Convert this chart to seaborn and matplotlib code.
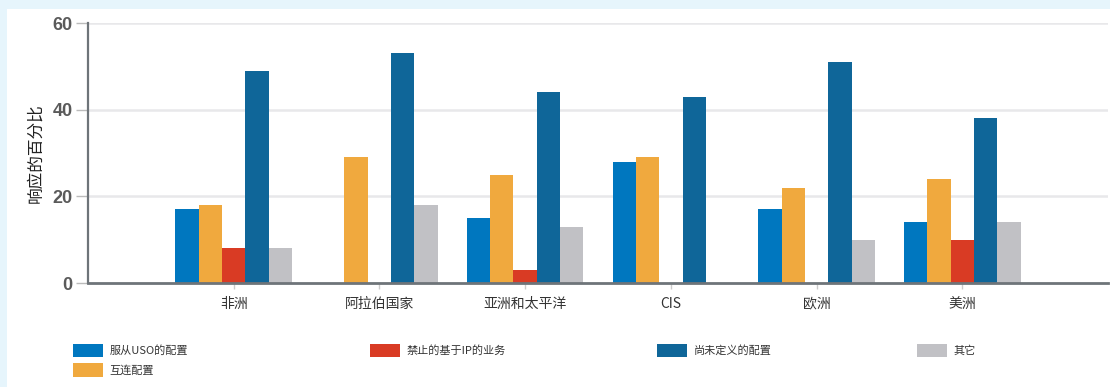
import numpy as np
import pandas as pd
import matplotlib
matplotlib.use("Agg")
import matplotlib.pyplot as plt
import seaborn as sns
from matplotlib.patches import Rectangle

# Survey responses by region (percent of respondents)
regions = ["非洲", "阿拉伯国家", "亚洲和太平洋", "CIS", "欧洲", "美洲"]
series = ["服从USO的配置", "互连配置", "禁止的基于IP的业务", "尚未定义的配置", "其它"]
uso_config = [17, 0, 15, 28, 17, 14]
interconnect_config = [18, 29, 25, 29, 22, 24]
ip_service_ban = [8, 0, 3, 0, 0, 10]
undefined_config = [49, 53, 44, 43, 51, 38]
other = [8, 18, 13, 0, 10, 14]
y_ticks = [0, 20, 40, 60]
y_label = "响应的百分比"

colors = ["#0077bf", "#f0a93e", "#d93b24", "#0f6699", "#c1c1c5"]

values = [uso_config, interconnect_config, ip_service_ban, undefined_config, other]
df = pd.DataFrame(
    [(r, s, v) for s, vals in zip(series, values) for r, v in zip(regions, vals)],
    columns=["region", "series", "value"],
)

sns.set_theme(style="white")
plt.rcParams["font.family"] = ["Noto Sans CJK SC", "DejaVu Sans"]

W, H = 1110, 387
fig = plt.figure(figsize=(W / 100, H / 100), dpi=100)
fig.patch.set_facecolor("#e6f5fc")
fig.patches.append(Rectangle((7 / W, 0), 1 - 7 / W, 1 - 9 / H,
                             transform=fig.transFigure, facecolor="white",
                             edgecolor="none", zorder=-10))

ax = fig.add_axes([88 / W, 1 - 283 / H, (1108 - 88) / W, (283 - 23) / H])
ax.set_facecolor("none")
ax.set_zorder(1)

sns.barplot(data=df, x="region", y="value", hue="series", order=regions,
            hue_order=series, palette=colors, saturation=1, width=0.8,
            linewidth=0, ax=ax, legend=True)

ax.set_xlim(-1, 6)
ax.set_ylim(0, 60)
ax.set_yticks(y_ticks)
ax.set_yticklabels([str(t) for t in y_ticks], fontsize=13, fontweight="bold",
                   color="#5a5a5a", family=["Liberation Sans", "DejaVu Sans"])
ax.set_xlabel("")
ax.set_ylabel(y_label, fontsize=12, color="#222222", labelpad=6)
ax.tick_params(axis="x", labelsize=10, labelcolor="#333333", length=4,
               width=1, color="#cccccc", pad=6, bottom=True, direction="out")
ax.tick_params(axis="y", length=9, width=1, color="#bbbbbb", pad=2,
               left=True, direction="out")

for y in y_ticks[1:]:
    ax.axhline(y, color="#e8e8ea", linewidth=1.8, zorder=0)

for side in ["top", "right"]:
    ax.spines[side].set_visible(False)
ax.spines["left"].set_color("#6e7479")
ax.spines["left"].set_linewidth(1.6)
ax.spines["bottom"].set_color("#6e7479")
ax.spines["bottom"].set_linewidth(2.0)
ax.set_axisbelow(True)

handles, labels = ax.get_legend_handles_labels()
ax.get_legend().remove()

# legend laid out as four columns; first column holds two entries
columns = [[0, 1], [2], [3], [4]]
col_x = [73, 370, 657, 917]
for idx, x in zip(columns, col_x):
    leg = fig.legend([handles[i] for i in idx], [labels[i] for i in idx],
                     loc="upper left", bbox_to_anchor=(x / W, 1 - 344 / H),
                     frameon=False, fontsize=8, handlelength=2.7,
                     handleheight=1.45, handletextpad=0.6, labelspacing=0.55,
                     borderpad=0, borderaxespad=0, labelcolor="#333333")
    leg.set_zorder(2)

fig.savefig("out.png", dpi=100, facecolor=fig.get_facecolor())
